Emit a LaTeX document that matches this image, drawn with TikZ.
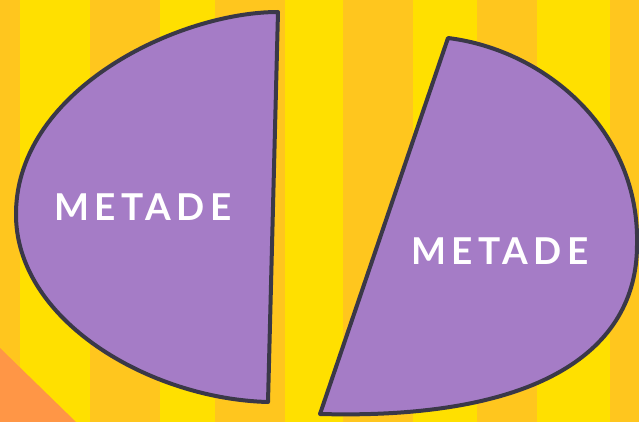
\documentclass[tikz,border=0pt]{standalone}
\usepackage{fontspec}
\newfontfamily\metadefont[LetterSpace=14]{Lato}
\usepackage{tikz}
\definecolor{stripeyellow}{RGB}{255,224,0}
\definecolor{stripeorange}{RGB}{255,198,30}
\definecolor{cornerorange}{RGB}{255,150,70}
\definecolor{halfpurple}{RGB}{165,124,198}
\definecolor{halfedge}{RGB}{58,56,72}
\tikzset{
  half/.style={fill=halfpurple, draw=halfedge, line width=4pt, line join=round},
  halflabel/.style={text=white, font=\metadefont\bfseries\fontsize{37}{37}\selectfont, inner sep=0pt},
}

\begin{document}
\begin{tikzpicture}[x=1pt, y=-1pt]
  \useasboundingbox (0,0) rectangle (639,422);
  \clip (0,0) rectangle (639,422);
  \fill[stripeyellow] (0,0) rectangle (639,422);
  \foreach \sx/\ex in {-50/20, 90/160, 215/285, 343/413, 477/537, 610/680}
    \fill[stripeorange] (\sx,0) rectangle (\ex,422);
  \fill[cornerorange] (0,348) -- (76,422) -- (0,422) -- cycle;
  \draw[half] (278,12) .. controls (180,12) and (18,88) .. (16,212)
    .. controls (14,320) and (150,399) .. (268,402) -- cycle;
  \draw[half] (448,38) .. controls (545,50) and (640,130) .. (637,245)
    .. controls (637,350) and (540,420) .. (320,414) -- cycle;
  \node[halflabel] (leftlabel) at (143,207) {METADE};
  \node[halflabel] (rightlabel) at (500,251) {METADE};
\end{tikzpicture}
\end{document}
